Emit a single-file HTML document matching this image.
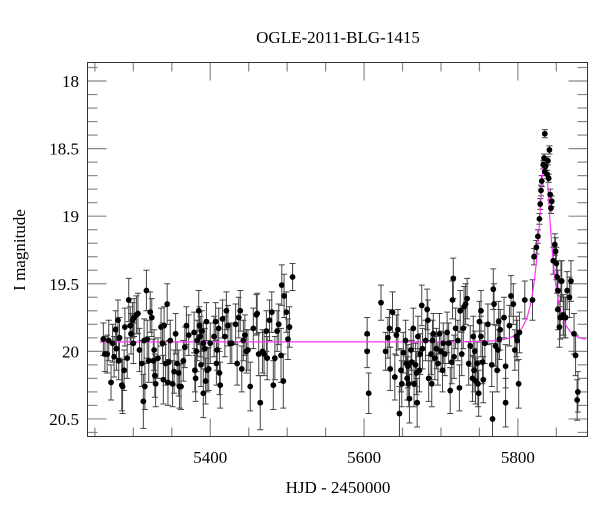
<!DOCTYPE html>
<html><head><meta charset="utf-8"><style>
html,body{margin:0;padding:0;background:#fff;}
svg text{font-family:"Liberation Serif",serif;fill:#000;}
</style></head><body>
<svg id="chart" width="600" height="512" viewBox="0 0 600 512" xmlns="http://www.w3.org/2000/svg">
<text x="338" y="43" font-size="17" text-anchor="middle">OGLE-2011-BLG-1415</text>
<text x="338" y="493" font-size="17" text-anchor="middle">HJD - 2450000</text>
<text transform="translate(25,250) rotate(-90)" font-size="17" text-anchor="middle">I magnitude</text>
<g id="ticks"></g>
<g id="errs"></g>
<path id="model" fill="none" stroke="#ff33ff" stroke-width="1.2"/>
<g id="pts"></g>
<rect x="87.5" y="62.5" width="500" height="374" fill="none" stroke="#333" stroke-width="1"/>
</svg>
<script>
const xTickLabels=[5400,5600,5800];
const yTickLabels=[18,18.5,19,19.5,20,20.5];
const modelParams=[5835,0.29,18,19.93]; // t0, u0, tE, baseline
const points=[
[5261,19.91,0.12],[5263,20.02,0.13],[5266,20.02,0.14],[5268,19.92,0.15],[5271,20.23,0.13],[5273,19.94,0.14],[5275,20.04,0.15],[5277,19.84,0.14],[5278,19.98,0.16],[5280,19.77,0.15],
[5281,20.07,0.14],[5282,19.90,0.15],[5285,20.25,0.19],[5286,20.26,0.2],[5288,20.14,0.15],[5289,19.82,0.14],[5292,20.05,0.15],[5294,19.62,0.16],[5296,19.81,0.14],[5297,19.87,0.15],
[5299,19.77,0.13],[5300,19.94,0.15],[5301,19.75,0.14],[5304,19.73,0.14],[5306,19.72,0.15],[5308,19.99,0.16],[5311,20.09,0.17],[5313,20.37,0.2],[5314,19.92,0.16],[5315,20.26,0.17],
[5317,19.55,0.15],[5318,19.91,0.14],[5320,20.07,0.16],[5322,19.71,0.15],[5324,19.75,0.14],[5326,20.07,0.16],[5327,19.99,0.15],[5328,20.18,0.16],[5329,20.24,0.17],[5332,20.05,0.15],
[5336,19.82,0.14],[5338,19.94,0.15],[5339,20.21,0.18],[5340,19.81,0.14],[5342,20.09,0.16],[5344,19.65,0.15],[5345,20.23,0.17],[5346,20.08,0.16],[5348,19.92,0.15],[5351,20.24,0.17],
[5353,20.15,0.16],[5355,19.87,0.15],[5357,20.09,0.16],[5359,20.16,0.17],[5360,20.26,0.16],[5362,20.26,0.17],[5365,20.07,0.15],[5367,19.97,0.15],[5369,19.81,0.14],[5372,19.88,0.15],
[5379,19.86,0.15],[5380,20.14,0.16],[5381,20.20,0.17],[5382,20.00,0.15],[5383,19.92,0.15],[5385,19.70,0.15],[5386,19.81,0.14],[5387,19.89,0.15],[5388,20.10,0.16],[5389,19.85,0.15],
[5391,19.94,0.15],[5391,20.31,0.18],[5393,19.98,0.15],[5394,20.22,0.17],[5395,19.78,0.14],[5396,20.14,0.16],[5398,20.13,0.16],[5400,19.94,0.15],[5405,19.89,0.15],[5407,19.78,0.14],
[5408,20.09,0.16],[5409,19.99,0.15],[5411,19.83,0.15],[5412,20.16,0.16],[5413,20.25,0.17],[5416,19.76,0.14],[5419,19.89,0.15],[5421,19.70,0.14],[5423,19.81,0.15],[5426,19.94,0.15],
[5428,19.94,0.15],[5433,19.80,0.15],[5435,20.09,0.16],[5437,19.75,0.15],[5439,19.70,0.15],[5441,20.13,0.17],[5443,19.92,0.15],[5445,19.88,0.15],[5447,20.00,0.16],[5449,19.99,0.15],
[5452,20.26,0.18],[5456,19.83,0.15],[5460,19.73,0.15],[5461,19.72,0.15],[5463,20.02,0.16],[5465,20.38,0.2],[5468,20.00,0.16],[5470,20.02,0.16],[5473,19.85,0.15],[5474,20.05,0.16],
[5477,19.77,0.15],[5480,19.71,0.15],[5482,20.25,0.18],[5484,20.05,0.16],[5487,19.85,0.15],[5489,19.80,0.15],[5492,20.03,0.2],[5493,19.51,0.15],[5495,20.22,0.2],[5496,19.59,0.16],
[5499,19.71,0.15],[5501,19.91,0.15],[5503,19.82,0.15],[5507,19.45,0.1],
[5604,19.87,0.12],[5604,20.00,0.12],[5606,20.31,0.15],[5622,19.64,0.13],[5628,20.00,0.14],[5631,19.90,0.15],[5633,19.83,0.14],[5634,20.13,0.16],[5637,19.71,0.15],[5640,20.19,0.17],
[5642,19.88,0.15],[5644,19.84,0.15],[5646,20.46,0.2],[5648,20.14,0.16],[5649,20.24,0.17],[5651,20.01,0.15],[5654,19.92,0.15],[5655,20.09,0.16],[5656,20.20,0.16],[5657,20.11,0.16],
[5658,20.24,0.17],[5659,20.35,0.18],[5661,19.99,0.15],[5662,20.08,0.16],[5664,19.83,0.15],[5665,20.24,0.17],[5667,20.10,0.16],[5668,20.16,0.16],[5669,20.38,0.18],[5670,19.89,0.15],
[5672,20.14,0.16],[5673,20.02,0.15],[5675,19.66,0.15],[5676,19.98,0.15],[5680,19.92,0.15],[5682,19.69,0.15],[5683,19.77,0.15],[5684,20.20,0.17],[5687,20.02,0.15],[5688,20.24,0.17],
[5689,19.92,0.15],[5690,19.87,0.15],[5692,20.05,0.16],[5694,19.98,0.15],[5696,20.09,0.16],[5698,19.87,0.15],[5700,20.00,0.15],[5702,20.14,0.16],[5703,19.94,0.15],[5705,20.02,0.16],
[5708,19.86,0.15],[5710,19.94,0.15],[5712,20.29,0.17],[5714,20.08,0.16],[5715,19.62,0.14],[5716,19.46,0.15],[5717,20.04,0.16],[5719,19.83,0.15],[5722,19.92,0.15],[5724,20.27,0.17],
[5725,19.70,0.15],[5727,20.02,0.16],[5729,19.83,0.15],[5730,19.67,0.15],[5732,19.65,0.15],[5734,19.61,0.15],[5736,20.09,0.16],[5738,19.96,0.15],[5741,20.20,0.17],[5742,19.89,0.15],
[5743,20.14,0.16],[5744,20.00,0.15],[5745,20.22,0.17],[5747,20.09,0.16],[5748,20.24,0.17],[5749,20.31,0.17],[5750,19.78,0.15],[5752,19.89,0.15],[5752,19.70,0.15],[5754,20.08,0.16],
[5755,20.21,0.17],[5757,19.94,0.15],[5761,19.80,0.15],[5766,20.10,0.16],[5767,20.50,0.2],[5768,19.54,0.15],[5769,19.65,0.15],[5771,19.96,0.15],[5773,20.14,0.16],[5774,19.99,0.15],
[5775,19.78,0.15],[5776,19.91,0.15],[5777,19.84,0.15],[5782,19.75,0.15],[5784,20.11,0.16],[5784,20.38,0.18],[5789,19.81,0.15],[5791,19.59,0.15],[5794,19.65,0.15],[5796,19.99,0.15],
[5798,19.89,0.15],[5799,19.92,0.15],[5801,20.24,0.18],[5802,19.86,0.15],[5809,19.62,0.14],
[5819,19.62,0.15],[5821,19.30,0.06],[5824,19.23,0.05],[5826,19.15,0.05],[5828,19.02,0.04],[5829,18.91,0.04],[5830,18.81,0.04],[5831,18.74,0.04],[5833,18.62,0.03],[5834,18.57,0.03],
[5835,18.67,0.03],[5835,18.39,0.03],[5836,18.63,0.03],[5838,18.69,0.03],[5839,18.59,0.03],[5840,18.72,0.03],[5841,18.51,0.03],[5842,18.84,0.04],[5843,18.94,0.04],[5844,18.89,0.04],
[5846,19.33,0.1],[5848,19.21,0.08],[5849,19.26,0.1],[5850,19.35,0.12],[5851,19.45,0.12],[5852,19.55,0.15],[5852,19.69,0.15],[5854,19.82,0.15],[5855,19.75,0.16],[5856,19.48,0.15],
[5857,19.48,0.15],[5859,19.73,0.15],[5860,19.75,0.15],[5862,19.75,0.15],[5864,19.55,0.14],[5867,19.60,0.15],[5869,19.48,0.15],[5873,19.87,0.15],[5875,20.03,0.15],[5877,20.36,0.15],
[5878,20.30,0.15]
];
const X0=87.5,X1=587.5,Y0=62.5,Y1=436.5;
const dMin=5240.4,dMax=5890.5,mTop=17.863,mBot=20.63;
const xs=d=>X0+(d-dMin)/(dMax-dMin)*(X1-X0);
const ys=m=>Y0+(m-mTop)/(mBot-mTop)*(Y1-Y0);
const NS='http://www.w3.org/2000/svg';
function mk(tag,attrs,parent){const e=document.createElementNS(NS,tag);for(const k in attrs)e.setAttribute(k,attrs[k]);parent.appendChild(e);return e;}
const tg=document.getElementById('ticks');
for(let d=5250;d<=5890;d+=50){
  const x=xs(d),L=(d%200===0)?18:9;
  const t1=mk('line',{x1:x,x2:x,y1:Y1,y2:Y1-L,stroke:'#888','stroke-width':1.2},tg);
  
  
  const t2=mk('line',{x1:x,x2:x,y1:Y0,y2:Y0+L,stroke:'#888','stroke-width':1.2},tg);
  
  
}
xTickLabels.forEach(v=>{
  const t=mk('text',{x:xs(v),y:463,'font-size':17,'text-anchor':'middle'},tg);
  t.textContent=v;
  
  
});
for(let i=0;i<=27;i++){
  const m=17.9+i*0.1,y=ys(m),maj=Math.abs(m*2-Math.round(m*2))<1e-6,L=maj?19:10;
  const t1=mk('line',{x1:X0,x2:X0+L,y1:y,y2:y,stroke:'#888','stroke-width':1.2},tg);
  
  
  const t2=mk('line',{x1:X1,x2:X1-L,y1:y,y2:y,stroke:'#888','stroke-width':1.2},tg);
  
  
}
yTickLabels.forEach(v=>{
  const t=mk('text',{x:79,y:ys(v)+6,'font-size':17,'text-anchor':'end'},tg);
  t.textContent=v;
  
  
});
const eg=document.getElementById('errs'),pg=document.getElementById('pts');
points.forEach(p=>{
  const x=xs(p[0]),y=ys(p[1]),ya=Math.max(Y0,ys(p[1]-p[2])),yb=Math.min(Y1,ys(p[1]+p[2]));
  const g=mk('path',{d:`M${x},${ya}V${yb}M${x-3},${ya}H${x+3}M${x-3},${yb}H${x+3}`,stroke:'#444','stroke-width':1,fill:'none'},eg);
  
  
  if(y>Y0&&y<Y1){
    const c=mk('circle',{cx:x,cy:y,r:2.9,fill:'#000'},pg);
    
    
  }
});
const [t0,u0,tE,base]=modelParams;
let dstr='';
for(let d=5256;d<=5888;d+=0.5){
  const tau=(d-t0)/tE,u=Math.sqrt(u0*u0+tau*tau),A=(u*u+2)/(u*Math.sqrt(u*u+4));
  const m=base-2.5*Math.log10(A);
  dstr+=(dstr?'L':'M')+xs(d).toFixed(2)+','+ys(m).toFixed(2);
}
document.getElementById('model').setAttribute('d',dstr);
</script>
</body></html>
